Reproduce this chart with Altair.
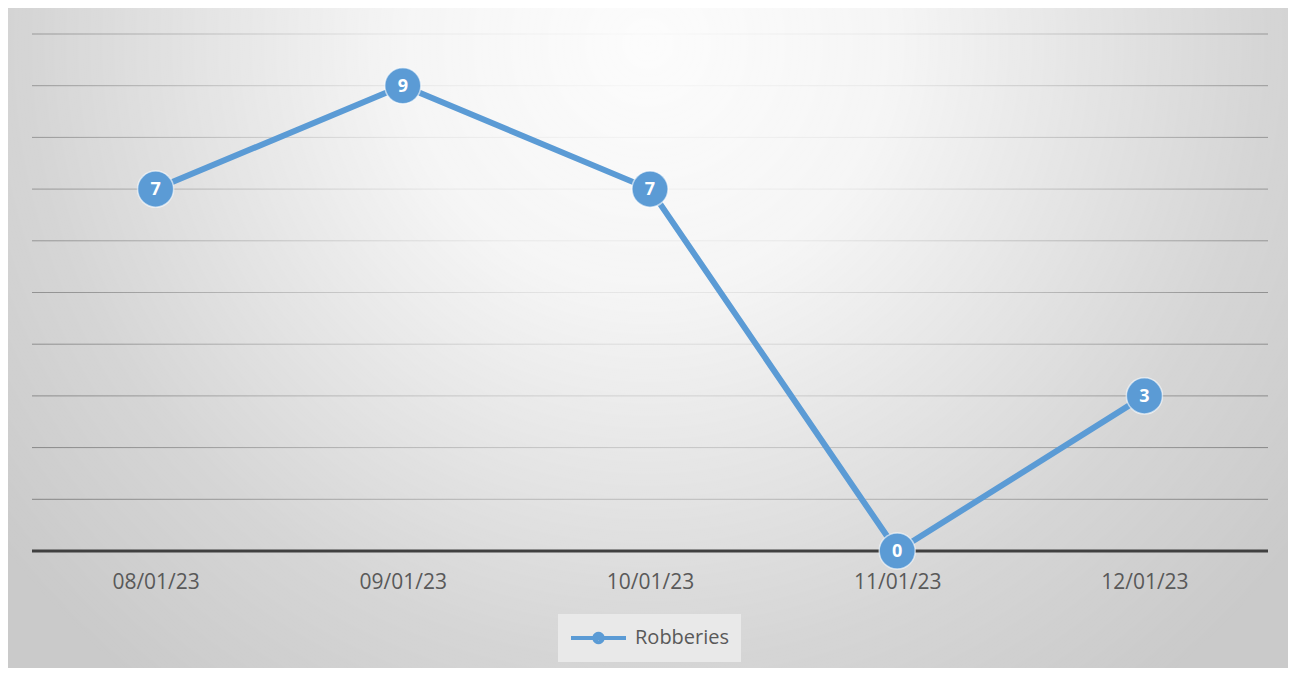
import math
import altair as alt
import pandas as pd

# ---- data ----
dates = ["08/01/23", "09/01/23", "10/01/23", "11/01/23", "12/01/23"]
robberies = [7, 9, 7, 0, 3]
series_name = "Robberies"
grid_values = [1, 2, 3, 4, 5, 6, 7, 8, 9, 10]
baseline_value = [0]

W, H = 1236, 517
PL, PT, PR, PB = 24, 26, 20, 117

df = pd.DataFrame({"date": dates, "value": robberies, "series": [series_name] * len(dates)})
grid_df = pd.DataFrame({"g": grid_values})
base_df = pd.DataFrame({"b": baseline_value})
one = pd.DataFrame({"k": [0]})

BLUE = "#5b9bd5"
FONT = "Open Sans"

yscale = alt.Scale(domain=[0, 10])
x_enc = alt.X(
    "date:N",
    sort=dates,
    axis=alt.Axis(
        title=None, domain=False, ticks=False, grid=False, labelAngle=0,
        labelFont=FONT, labelFontSize=21, labelColor="#595959",
        labelPadding=20, zindex=1,
    ),
)
y_enc = alt.Y("value:Q", scale=yscale, axis=None)

overlay_fill = alt.RadialGradient(
    gradient="radial", x1=0.5, y1=0.27, r1=0, x2=0.5, y2=0.27, r2=0.64,
    stops=[
        alt.GradientStop(offset=0, color="rgba(255,255,255,0.95)"),
        alt.GradientStop(offset=0.3, color="rgba(255,255,255,0.82)"),
        alt.GradientStop(offset=0.75, color="rgba(255,255,255,0.22)"),
        alt.GradientStop(offset=1, color="rgba(255,255,255,0)"),
    ],
)

full = dict(x=alt.value(-PL), x2=alt.value(W + PR), y=alt.value(-PT), y2=alt.value(H + PB))

base_bg = alt.Chart(one).mark_rect(fill="#cacaca").encode(**full)
grid = alt.Chart(grid_df).mark_rule(color="#7c7c7c", strokeWidth=1).encode(
    y=alt.Y("g:Q", scale=yscale, axis=None)
)
overlay = alt.Chart(one).mark_rect(fill=overlay_fill).encode(**full)
baseline = alt.Chart(base_df).mark_rule(color="#404040", strokeWidth=3).encode(
    y=alt.Y("b:Q", scale=yscale, axis=None)
)

# legend glyph: line with a marker (path in symbol units)
circ = "".join(
    ("M" if i == 0 else "L") + f"{1.5 + 0.38 * math.cos(2 * math.pi * i / 20):.3f},{0.38 * math.sin(2 * math.pi * i / 20):.3f}"
    for i in range(20)
) + "Z"
glyph = "M-1,0L4,0" + circ

legend = alt.Legend(
    title=None, orient="none", legendX=526, legendY=580,
    symbolType=glyph, symbolSize=484, symbolStrokeWidth=4,
    labelFont=FONT, labelFontSize=20, labelColor="#595959", labelOffset=40,
    fillColor="#e9e9e9", padding=11,
)

line = alt.Chart(df).mark_line(strokeWidth=6).encode(
    x=x_enc, y=y_enc,
    color=alt.Color("series:N", scale=alt.Scale(range=[BLUE]), legend=legend),
)
points = alt.Chart(df).mark_circle(
    size=1300, color=BLUE, opacity=1, stroke="white", strokeWidth=1.5, strokeOpacity=0.6
).encode(x=x_enc, y=y_enc)
labels = alt.Chart(df).mark_text(
    color="white", font=FONT, fontSize=18, fontWeight="bold", baseline="middle", dy=1
).encode(x=x_enc, y=y_enc, text="value:Q")

chart = alt.layer(base_bg, grid, overlay, baseline, line, points, labels).properties(
    width=W, height=H,
    autosize=alt.AutoSizeParams(type="none"),
    padding={"left": PL, "top": PT, "right": PR, "bottom": PB},
    background="white",
).configure_view(stroke=None)

chart.save("out.html", embed_options={"renderer": "svg", "actions": False})
